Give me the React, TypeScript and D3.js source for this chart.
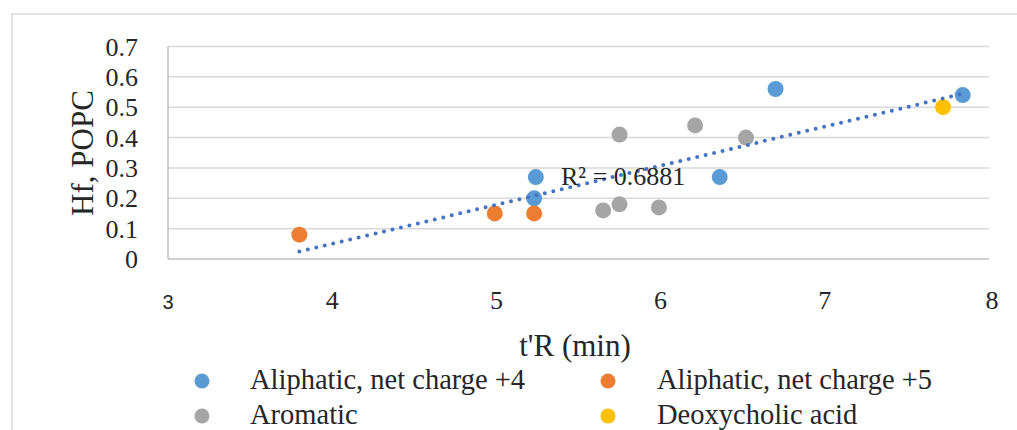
import React, { useEffect, useRef } from 'react'
import * as d3 from 'd3'

const seriesNames = ['Aliphatic, net charge +4', 'Aliphatic, net charge +5', 'Aromatic', 'Deoxycholic acid']
const seriesColors = ['#5B9BD5', '#ED7D31', '#A5A5A5', '#FFC000']

const aliphatic4X = [5.24, 5.23, 6.36, 6.7, 7.84]
const aliphatic4Y = [0.27, 0.20, 0.27, 0.56, 0.54]
const aliphatic5X = [3.8, 4.99, 5.23]
const aliphatic5Y = [0.08, 0.15, 0.15]
const aromaticX = [5.65, 5.75, 5.99, 5.75, 6.21, 6.52]
const aromaticY = [0.16, 0.18, 0.17, 0.41, 0.44, 0.40]
const deoxyX = [7.72]
const deoxyY = [0.5]

const xTicks = [3, 4, 5, 6, 7, 8]
const yTicks = [0, 0.1, 0.2, 0.3, 0.4, 0.5, 0.6, 0.7]
const r2Label = 'R² = 0.6881'

const serif = '"Liberation Serif", "Times New Roman", serif'

function App() {
    const ref = useRef<SVGSVGElement>(null)

    useEffect(() => {
        const svg = d3.select(ref.current)
        svg.selectAll('*').remove()

        const x = d3.scaleLinear().domain([3, 8]).range([168, 989])
        const y = d3.scaleLinear().domain([0, 0.7]).range([259, 46.5])

        // chart frame (only top and left edges visible)
        svg.append('path')
            .attr('d', 'M12,430 L12,14 L1017,14')
            .attr('fill', 'none')
            .attr('stroke', '#d9d9d9')
            .attr('stroke-width', 1.5)

        // gridlines
        svg.append('g')
            .selectAll('line')
            .data(yTicks)
            .enter()
            .append('line')
            .attr('x1', x(3))
            .attr('x2', x(8))
            .attr('y1', (d) => y(d))
            .attr('y2', (d) => y(d))
            .attr('stroke', (d) => d === 0 ? '#bfbfbf' : '#d9d9d9')
            .attr('stroke-width', 1.5)

        svg.append('line')
            .attr('x1', x(3)).attr('x2', x(3))
            .attr('y1', y(0.7)).attr('y2', y(0))
            .attr('stroke', '#bfbfbf')
            .attr('stroke-width', 1.5)

        // y tick labels
        svg.append('g')
            .selectAll('text')
            .data(yTicks)
            .enter()
            .append('text')
            .attr('x', 138)
            .attr('y', (d) => y(d) + 9)
            .attr('text-anchor', 'end')
            .attr('font-family', serif)
            .attr('font-size', 26)
            .attr('fill', '#262626')
            .text((d) => d === 0 ? '0' : d3.format('.1f')(d))

        // x tick labels (the first one is set in a sans face in the original)
        svg.append('g')
            .selectAll('text')
            .data(xTicks)
            .enter()
            .append('text')
            .attr('x', (d) => x(d) + (d === 8 ? 3 : 0))
            .attr('y', 309)
            .attr('text-anchor', 'middle')
            .attr('font-family', (d) => d === 3 ? '"Liberation Sans", Arial, sans-serif' : serif)
            .attr('font-size', (d) => d === 3 ? 20 : 26)
            .attr('fill', '#262626')
            .text((d) => d)

        // axis titles
        svg.append('text')
            .attr('transform', 'translate(93,153) rotate(-90)')
            .attr('text-anchor', 'middle')
            .attr('font-family', serif)
            .attr('font-size', 31)
            .attr('fill', '#262626')
            .text('Hf, POPC')

        svg.append('text')
            .attr('x', 575)
            .attr('y', 356)
            .attr('text-anchor', 'middle')
            .attr('font-family', serif)
            .attr('font-size', 31)
            .attr('fill', '#262626')
            .text('t\'R (min)')

        const series = [
            { xs: aliphatic4X, ys: aliphatic4Y },
            { xs: aliphatic5X, ys: aliphatic5Y },
            { xs: aromaticX, ys: aromaticY },
            { xs: deoxyX, ys: deoxyY },
        ]
        const all = series.flatMap((s) => s.xs.map((v, i) => [v, s.ys[i]]))

        // linear trendline through all points
        const mx = d3.mean(all, (d) => d[0]) as number
        const my = d3.mean(all, (d) => d[1]) as number
        const sxy = d3.sum(all, (d) => (d[0] - mx) * (d[1] - my))
        const sxx = d3.sum(all, (d) => (d[0] - mx) ** 2)
        const slope = sxy / sxx
        const icpt = my - slope * mx
        const ext = d3.extent(all, (d) => d[0]) as [number, number]

        const line = d3.line<number>().x((d) => x(d)).y((d) => y(icpt + slope * d))

        // points
        series.forEach((s, k) => {
            svg.append('g')
                .selectAll('circle')
                .data(s.xs)
                .enter()
                .append('circle')
                .attr('cx', (d) => x(d))
                .attr('cy', (d, i) => y(s.ys[i]))
                .attr('r', 8)
                .attr('fill', seriesColors[k])
        })

        svg.append('path')
            .attr('d', line(ext))
            .attr('fill', 'none')
            .attr('stroke', '#4472C4')
            .attr('stroke-width', 4)
            .attr('stroke-linecap', 'round')
            .attr('stroke-dasharray', '0 8.7')

        svg.append('text')
            .attr('x', 561)
            .attr('y', 185)
            .attr('font-family', serif)
            .attr('font-size', 26)
            .attr('fill', '#262626')
            .text(r2Label)

        // legend
        const legend = svg.append('g')
            .selectAll('g')
            .data(seriesNames)
            .enter()
            .append('g')
            .attr('transform', (d, i) => 'translate(' + (i % 2 ? 608 : 202) + ',' + (i < 2 ? 381 : 416) + ')')

        legend.append('circle')
            .attr('r', 7.5)
            .attr('fill', (d, i) => seriesColors[i])

        legend.append('text')
            .attr('x', (d, i) => i % 2 ? 49 : 48)
            .attr('y', 8)
            .attr('font-family', serif)
            .attr('font-size', 28.5)
            .attr('fill', '#262626')
            .text((d) => d)
    }, [])

    return (
        <svg ref={ref} width={1017} height={430}
            style={{ position: 'absolute', left: 0, top: 0, background: '#fff' }} />
    )
}

export default App
